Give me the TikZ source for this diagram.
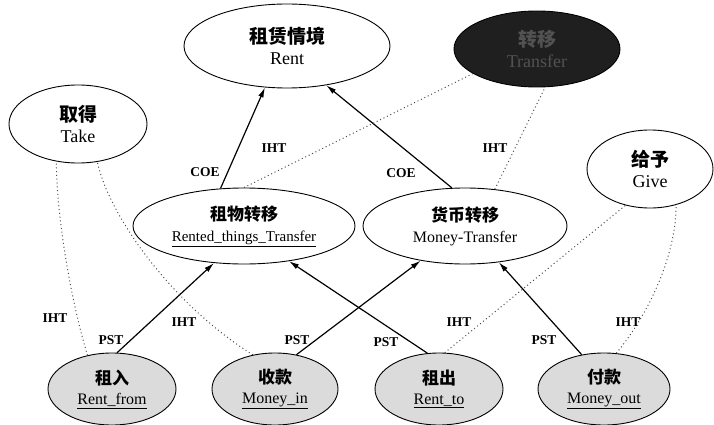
\documentclass[tikz,border=0pt]{standalone}
\usepackage{fontspec}
\setmainfont{Liberation Serif}
\newfontfamily\cjk{Noto Sans CJK SC}
\usetikzlibrary{shapes.geometric,arrows.meta}
\newcommand\cnbig{\cjk\bfseries\fontsize{19}{21}\selectfont}
\newcommand\cnmid{\cjk\bfseries\fontsize{17}{21}\selectfont}
\newcommand\cnsml{\cjk\bfseries\fontsize{17}{20}\selectfont}
\begin{document}
\begin{tikzpicture}[x=1pt,y=-1pt,
  el/.style={ellipse, draw, line width=0.9pt, inner sep=0pt, align=center},
  topel/.style={el, font=\fontsize{18}{21}\selectfont},
  midel/.style={el, font=\fontsize{16}{21}\selectfont, minimum height=76pt},
  botel/.style={el, fill=black!14, font=\fontsize{16}{20}\selectfont, minimum height=72pt},
  lab/.style={font=\bfseries\fontsize{13.5}{14}\selectfont, inner sep=1pt},
  arr/.style={line width=1.2pt, -{Latex[length=10pt,width=5.5pt]}},
  iht/.style={line width=1pt, black!70, dash pattern=on 1pt off 2.8pt}]
\useasboundingbox (0,0) rectangle (714,425);

% top nodes
\node[topel, minimum width=206pt, minimum height=84pt] (rent) at (287,46) {{\cnbig 租赁情境}\\Rent};
\node[topel, fill=black!88, minimum width=166pt, minimum height=76pt, text=black!68] (transfer) at (537,49) {{\cnbig 转移}\\Transfer};
\node[topel, minimum width=138pt, minimum height=78pt] (take) at (78,124) {{\cnbig 取得}\\Take};
\node[topel, minimum width=126pt, minimum height=78pt] (give) at (650,169) {{\cnbig 给予}\\Give};

% middle nodes
\node[midel, minimum width=222pt] (rtt) at (244,226) {{\cnmid 租物转移}\\{\fontsize{15}{21}\selectfont\underline{Rented\_things\_Transfer}}};
\node[midel, minimum width=204pt] (mt) at (465,226) {{\cnmid 货币转移}\\Money-Transfer};

% bottom nodes
\node[botel, minimum width=128pt] (rfrom) at (112,389) {{\cnsml 租入}\\\underline{Rent\_from}};
\node[botel, minimum width=126pt] (min) at (275,389) {{\cnsml 收款}\\\underline{Money\_in}};
\node[botel, minimum width=128pt] (rto) at (439,389) {{\cnsml 租出}\\\underline{Rent\_to}};
\node[botel, minimum width=132pt] (mout) at (604,389) {{\cnsml 付款}\\\underline{Money\_out}};

% solid arrows
\draw[arr] (rfrom.82) -- (rtt.231);
\draw[arr] (min.58) -- (mt.218);
\draw[arr] (rto.108) -- (rtt.322);
\draw[arr] (mout.123) -- (mt.313);
\draw[arr] (rtt.122) -- (rent.242);
\draw[arr] (mt.109) -- (rent.315);

% dotted IHT links
\draw[iht] (rtt.90) -- (transfer.201);
\draw[iht] (mt.51) -- (transfer.282);
\draw[iht] (rfrom.126) .. controls +(-16,-52) and +(0,55) .. (take.240);
\draw[iht] (min.123) .. controls +(-80,-50) and +(12,55) .. (take.297);
\draw[iht] (rto.81) -- (give.236);
\draw[iht] (mout.71) .. controls +(33,-40) and +(0,50) .. (give.306);

% labels
\node[lab] (coe1) at (205,172) {COE};
\node[lab] (coe2) at (401,173) {COE};
\node[lab] (iht1) at (274,148) {IHT};
\node[lab] (iht2) at (495,148) {IHT};
\node[lab] (iht3) at (55,318) {IHT};
\node[lab] (iht4) at (184,322) {IHT};
\node[lab] (iht5) at (459,322) {IHT};
\node[lab] (iht6) at (628,322) {IHT};
\node[lab] (pst1) at (111,340) {PST};
\node[lab] (pst2) at (297,340) {PST};
\node[lab] (pst3) at (386,342) {PST};
\node[lab] (pst4) at (544,340) {PST};
\end{tikzpicture}
\end{document}
